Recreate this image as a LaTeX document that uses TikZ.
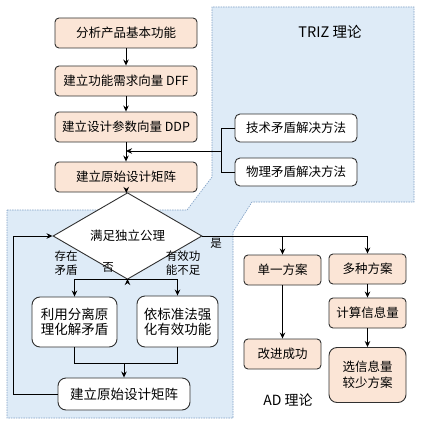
\documentclass[tikz,border=0pt]{standalone}
\usepackage{fontspec}
\setmainfont{Noto Sans CJK SC}
\usetikzlibrary{shapes.geometric,arrows.meta}
\definecolor{peach}{HTML}{FBE5D6}
\definecolor{bluebg}{HTML}{DEEBF7}
\definecolor{blueedge}{HTML}{7F9FC4}
\definecolor{boxedge}{HTML}{303030}
\begin{document}
\begin{tikzpicture}[x=1pt,y=-1pt,
  base/.style={draw=boxedge, line width=0.9pt, inner sep=0pt, align=center},
  peachbox/.style={base, fill=peach, rounded corners=4pt, minimum width=142pt, minimum height=30pt, font=\fontsize{12.5}{14}\selectfont},
  peachsmall/.style={base, fill=peach, rounded corners=4pt, minimum width=77pt, minimum height=30pt, font=\fontsize{12.5}{14}\selectfont},
  trizbox/.style={base, fill=white, rounded corners=5pt, minimum width=122pt, minimum height=28pt, font=\fontsize{12.5}{14}\selectfont},
  whitebox/.style={base, fill=white, rounded corners=8pt, font=\fontsize{13.5}{15}\selectfont},
  lbl/.style={inner sep=0pt, align=center, font=\fontsize{11.5}{13.5}\selectfont},
  ln/.style={line width=1pt, draw=black},
  arr/.style={ln, -{Stealth[length=6pt,width=5.5pt]}}]
\useasboundingbox (0,0) rectangle (430,425);
% background region
\draw[fill=bluebg, draw=blueedge, line width=0.6pt, dash pattern=on 1.5pt off 1pt]
  (7,210) -- (187,210) -- (212,177) -- (212,7) -- (414,7) -- (414,202) -- (252,202)
  -- (233,232) -- (233,418) -- (7,418) -- cycle;
% main column
\node[peachbox] (b1) at (126,33) {分析产品基本功能};
\node[peachbox] (b2) at (126,81) {建立功能需求向量 DFF};
\node[peachbox] (b3) at (126,127) {建立设计参数向量 DDP};
\node[peachbox] (b4) at (126,177) {建立原始设计矩阵};
% TRIZ
\node[lbl, font=\fontsize{14.5}{16}\selectfont] (trizl) at (330,32) {TRIZ 理论};
\node[trizbox] (t1) at (296,128) {技术矛盾解决方法};
\node[trizbox] (t2) at (296,172) {物理矛盾解决方法};
% diamond
\node[base, shape=diamond, fill=white, minimum width=149pt, minimum height=46pt, font=\fontsize{12.5}{14}\selectfont] (d) at (127.5,236) {满足独立公理};
% AD
\node[peachsmall] (s1) at (282.5,270) {单一方案};
\node[peachsmall] (s2) at (282.5,354) {改进成功};
\node[peachsmall] (m1) at (367.5,269) {多种方案};
\node[peachsmall] (m2) at (367.5,313) {计算信息量};
\node[peachsmall, rounded corners=8pt, minimum height=55pt] (m3) at (367.5,375) {选信息量\\[2pt]较少方案};
\node[lbl, font=\fontsize{14}{16}\selectfont] (adl) at (288,400) {AD 理论};
% lower left
\node[whitebox, minimum width=85pt, minimum height=50pt] (l1) at (74.5,322) {利用分离原\\理化解矛盾};
\node[whitebox, minimum width=81pt, minimum height=51pt] (l2) at (177.5,321.5) {依标准法强\\化有效功能};
\node[whitebox, minimum width=132pt, minimum height=32pt] (l3) at (124,394) {建立原始设计矩阵};
\node[lbl] (lab1) at (66,263) {存在\\矛盾};
\node[lbl] (lab2) at (108,267) {否};
\node[lbl] (lab3) at (183,263) {有效功\\能不足};
\node[lbl] (lab4) at (216,243) {是};
% connectors
\draw[arr] (b1) -- (b2);
\draw[arr] (b2) -- (b3);
\draw[arr] (b3) -- (b4);
\draw[arr] (b4) -- (d);
\coordinate (jt) at (221,151);
\draw[ln] (t1.west) -- (t1.west -| jt) -- (t2.west -| jt) -- (t2.west);
\draw[arr] (jt) -- (jt -| b3.south);
\draw[ln] (d.east) -- (d.east -| m1.north);
\draw[arr] (d.east -| s1.north) -- (s1.north);
\draw[arr] (d.east -| m1.north) -- (m1.north);
\draw[arr] (s1) -- (s2);
\draw[arr] (m1) -- (m2);
\draw[arr] (m2) -- (m3);
\coordinate (jn) at (127.5,279);
\draw[arr] (d.south) -- (jn);
\draw[ln] (l1.north |- jn) -- (l2.north |- jn);
\draw[arr] (l1.north |- jn) -- (l1.north);
\draw[arr] (l2.north |- jn) -- (l2.north);
\coordinate (jb) at (124,363);
\draw[ln] (l1.south) -- (l1.south |- jb) -- (l2.south |- jb) -- (l2.south);
\draw[arr] (jb) -- (l3.north);
\coordinate (lp) at (13,236);
\draw[arr] (l3.west) -| (lp) -- (d.west);
\end{tikzpicture}
\end{document}
